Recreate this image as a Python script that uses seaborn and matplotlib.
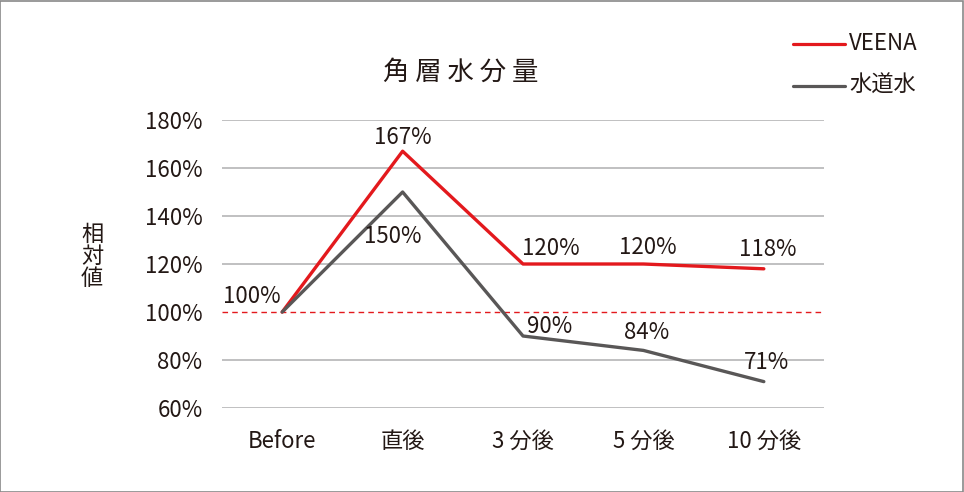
import numpy as np
import pandas as pd
import seaborn as sns
import matplotlib.pyplot as plt
from matplotlib.patches import Rectangle

# =======================
# Datos
# =======================
categorias = ['Before', '直後', '3 分後', '5 分後', '10 分後']
veena = [100, 167, 120, 120, 118]
agua = [100, 150, 90, 84, 71]
series = ['VEENA', '水道水']
yticks = [60, 80, 100, 120, 140, 160, 180]

df = pd.DataFrame({
    'tiempo': categorias * 2,
    'valor': veena + agua,
    'serie': [series[0]] * 5 + [series[1]] * 5,
})

sns.set_theme(style='white')
plt.rcParams['font.family'] = ['Noto Sans CJK JP', 'DejaVu Sans']
texto = '#231815'
rojo = '#e3191d'
gris = '#595757'
fs = 16

fig = plt.figure(figsize=(9.64, 4.92), dpi=100)
ax = fig.add_axes([0.2303, 0.1707, 0.6245, 0.5854])

sns.lineplot(data=df, x='tiempo', y='valor', hue='serie', sort=False,
             palette={'VEENA': rojo, '水道水': gris},
             linewidth=2.4, ax=ax, legend=False, zorder=3)

ax.set_xlim(-0.5, 4.5)
ax.set_ylim(60, 180)
ax.set_yticks(yticks)
ax.set_yticklabels([f'{v}%' for v in yticks], fontsize=fs, color=texto)
ax.tick_params(axis='x', labelsize=fs, colors=texto, pad=16, length=0)
ax.tick_params(axis='y', pad=14, length=0)
for v in yticks:
    if v != 100:
        ax.axhline(v, color='#b5b5b6', lw=1.2, zorder=1)
ax.axhline(100, color=rojo, lw=1, ls=(0, (4, 3)), zorder=2)
for s in ax.spines.values():
    s.set_visible(False)
ax.set_xlabel('')
ax.set_ylabel('')
fig.text(0.0955, 0.478, '相\n対\n値', ha='center', va='center', fontsize=16,
         color=texto, linespacing=0.95)

# Etiquetas de valores (desplazamiento en puntos)
off_v = [(-22, 11), (0, 10), (20, 11), (3, 12), (3, 14)]
off_a = [None, (-7, -32), (19, 7), (2, 13), (2, 14)]
for i, v in enumerate(veena):
    ax.annotate(f'{v}%', (i, v), xytext=off_v[i], textcoords='offset points',
                ha='center', va='center', fontsize=fs, color=texto)
for i, v in enumerate(agua):
    if i == 0:
        continue
    ax.annotate(f'{v}%', (i, v), xytext=off_a[i], textcoords='offset points',
                ha='center', va='center', fontsize=fs, color=texto)

# Título
fig.text(0.478, 0.853, '角 層 水 分 量', ha='center', va='center',
         fontsize=19, color=texto)

# Leyenda
for k, (nombre, col) in enumerate(zip(series, [rojo, gris])):
    y = 0.911 - k * 0.085
    fig.add_artist(plt.Line2D([0.8226, 0.8766], [y, y], color=col, lw=2.3))
    fig.text(0.8807, y, nombre, ha='left', va='center', fontsize=fs, color=texto)

fig.add_artist(Rectangle((0.0005, 0.001), 0.998, 0.997, transform=fig.transFigure,
                         fill=False, edgecolor='#898989', lw=1.2))

fig.savefig('out.png', dpi=100)
plt.close()
